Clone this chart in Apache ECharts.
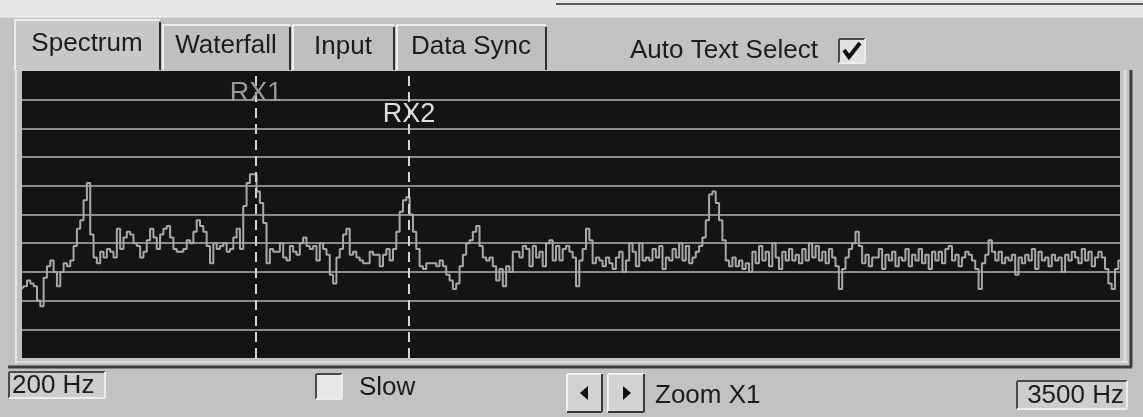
<!DOCTYPE html>
<html>
<head>
<meta charset="utf-8">
<title>Spectrum</title>
<script src="https://cdn.jsdelivr.net/npm/echarts@6/dist/echarts.min.js"></script>
<style>
  html, body { margin: 0; padding: 0; background: #c2c2c2; }
  #chart { width: 1143px; height: 417px; }
</style>
</head>
<body>
<div id="chart"></div>
<script>
  // spectrum bins, 10 Hz apart, 200 .. 3500 Hz
  const FREQ_START = 200;
  const FREQ_END = 3500;
  const FREQ_STEP = 10;

  // level of each bin (0..100 scale, 10 per grid line)
  const levels = [
    24, 25, 27, 26, 25, 20, 18, 28, 32, 34,
    30, 25, 30, 33, 32, 34, 39, 45, 48, 55,
    61, 43, 35, 33, 37, 35, 38, 37, 35, 45,
    38, 42, 44, 43, 40, 39, 35, 37, 41, 45,
    42, 38, 43, 45, 46, 42, 38, 37, 37, 38,
    41, 40, 44, 48, 46, 44, 39, 33, 40, 38,
    39, 40, 37, 38, 42, 45, 38, 53, 61, 64,
    64, 58, 54, 47, 33, 38, 37, 37, 40, 35,
    34, 39, 37, 36, 40, 42, 39, 38, 39, 34,
    40, 38, 36, 29, 26, 35, 38, 43, 45, 36,
    37, 35, 34, 33, 33, 37, 36, 36, 32, 36,
    38, 34, 38, 44, 51, 55, 56, 50, 44, 38,
    32, 31, 33, 33, 33, 32, 34, 32, 29, 27,
    24, 26, 32, 36, 40, 41, 44, 46, 39, 35,
    34, 35, 32, 27, 31, 25, 32, 30, 37, 37,
    35, 39, 38, 32, 39, 35, 37, 32, 40, 41,
    34, 39, 34, 38, 39, 37, 35, 25, 34, 38,
    45, 41, 33, 35, 34, 32, 35, 33, 31, 35,
    37, 30, 34, 40, 37, 32, 40, 34, 35, 34,
    38, 35, 39, 31, 35, 34, 38, 35, 40, 34,
    39, 33, 35, 37, 39, 42, 48, 57, 58, 54,
    48, 41, 34, 32, 35, 32, 34, 31, 33, 30,
    37, 33, 39, 34, 37, 32, 40, 35, 31, 37,
    34, 38, 34, 36, 33, 38, 34, 40, 35, 39,
    34, 37, 33, 38, 35, 32, 24, 31, 35, 38,
    40, 44, 39, 33, 36, 32, 35, 35, 38, 31,
    36, 34, 37, 32, 35, 34, 38, 32, 36, 34,
    38, 33, 36, 31, 37, 34, 37, 33, 38, 39,
    34, 36, 32, 35, 37, 36, 34, 31, 24, 33,
    36, 41, 37, 34, 37, 33, 35, 34, 36, 29,
    35, 33, 36, 34, 38, 31, 37, 34, 35, 32,
    36, 34, 35, 30, 36, 34, 37, 35, 33, 38,
    34, 37, 32, 35, 37, 35, 31, 26, 24, 31,
    34
  ];

  // receive markers
  const rxNames = ['RX1', 'RX2'];
  const rxFreqs = [903, 1363];
  const rxLabelLevels = [92, 85];

  // texts of the window
  const tabNames = ['Spectrum', 'Waterfall', 'Input', 'Data Sync'];
  const freqLabels = ['200 Hz', '3500 Hz'];

  const spectrum = levels.map((v, i) => [FREQ_START + i * FREQ_STEP, v]);

  const INK = '#1c1c1c';
  const LIGHT = '#ececec';
  const SHADOW = '#4a4a4a';

  function line(x1, y1, x2, y2, color, width) {
    return {
      type: 'line',
      shape: { x1: x1, y1: y1, x2: x2, y2: y2 },
      style: { stroke: color, lineWidth: width || 2 },
      silent: true,
    };
  }
  function rect(x, y, w, h, fill) {
    return { type: 'rect', shape: { x: x, y: y, width: w, height: h }, style: { fill: fill }, silent: true };
  }
  function text(str, x, y, align, size) {
    return {
      type: 'text',
      silent: true,
      style: {
        text: str,
        x: x,
        y: y,
        fill: INK,
        font: (size || 26) + 'px "Liberation Sans", Arial, sans-serif',
        textAlign: align || 'left',
        verticalAlign: 'middle',
        textVerticalAlign: 'middle',
      },
    };
  }
  // sunken box (text fields, check boxes)
  function sunken(x, y, w, h, fill) {
    return [
      rect(x, y, w, h, fill),
      line(x, y, x + w, y, SHADOW, 2),
      line(x, y, x, y + h, SHADOW, 2),
      line(x, y + h, x + w, y + h, LIGHT, 2),
      line(x + w, y, x + w, y + h, LIGHT, 2),
    ];
  }
  // raised button
  function raised(x, y, w, h) {
    return [
      rect(x, y, w, h, '#d2d2d2'),
      line(x, y, x + w, y, '#f2f2f2', 2),
      line(x, y, x, y + h, '#f2f2f2', 2),
      line(x, y + h, x + w, y + h, '#3a3a3a', 2),
      line(x + w, y, x + w, y + h, '#3a3a3a', 2),
    ];
  }

  const graphics = [];

  // window strip on top
  graphics.push(rect(0, 0, 1143, 17, '#e6e6e6'));
  graphics.push(line(556, 4, 1143, 4, '#5a5a5a', 2));
  graphics.push(line(0, 17, 1143, 17, '#f4f4f4', 1));

  // tabs
  const tabEdges = [14, 162, 292, 396, 548];
  const tabTextY = [44, 46, 47, 47];
  tabNames.forEach((name, i) => {
    const x0 = tabEdges[i];
    const x1 = tabEdges[i + 1] - 2;
    const top = i === 0 ? 20 : 25;
    graphics.push(rect(x0, top, x1 - x0, 71 - top, i === 0 ? '#c8c8c8' : '#bfbfbf'));
    graphics.push(line(x0, top, x1, top, '#ededed', 2));
    graphics.push(line(x0 + 1, top, x0 + 1, 70, '#ededed', 2));
    graphics.push(line(x1, top + 2, x1, 70, '#2e2e2e', 2));
    graphics.push(text(name, (x0 + x1) / 2, tabTextY[i], 'center'));
  });

  // auto text select check box
  graphics.push(text('Auto Text Select', 630, 51, 'left'));
  graphics.push.apply(graphics, sunken(839, 39, 26, 24, '#e2e2e2'));
  graphics.push({
    type: 'polyline',
    silent: true,
    shape: { points: [[844, 50], [849, 57], [860, 43]] },
    style: { stroke: '#111', lineWidth: 4, fill: null },
  });

  // frame of the display
  graphics.push(line(16, 70, 16, 364, '#e4e4e4', 2));
  graphics.push(line(16, 362, 1128, 362, '#dcdcdc', 2));
  graphics.push(line(8, 367, 1132, 367, '#3c3c3c', 3));
  graphics.push(line(1131, 70, 1131, 367, '#3c3c3c', 3));
  graphics.push(line(1125, 70, 1125, 362, '#dedede', 3));

  // bottom bar
  graphics.push.apply(graphics, sunken(9, 372, 96, 26, '#cdcdcd'));
  graphics.push(text(freqLabels[0], 12, 386, 'left'));

  graphics.push.apply(graphics, sunken(316, 374, 26, 25, '#e8e8e8'));
  graphics.push(text('Slow', 359, 388, 'left'));

  graphics.push.apply(graphics, raised(567, 374, 35, 38));
  graphics.push.apply(graphics, raised(608, 374, 36, 38));
  graphics.push({
    type: 'polygon', silent: true,
    shape: { points: [[580, 393], [588, 386], [588, 400]] },
    style: { fill: '#111' },
  });
  graphics.push({
    type: 'polygon', silent: true,
    shape: { points: [[631, 393], [623, 386], [623, 400]] },
    style: { fill: '#111' },
  });
  graphics.push(text('Zoom X1', 655, 396, 'left'));

  graphics.push.apply(graphics, sunken(1017, 381, 110, 28, '#cdcdcd'));
  graphics.push(text(freqLabels[1], 1124, 396, 'right'));

  const chart = echarts.init(document.getElementById('chart'), null, { renderer: 'canvas' });

  const option = {
    backgroundColor: '#c2c2c2',
    animation: false,
    grid: {
      left: 22,
      right: 23,
      top: 71,
      bottom: 59,
      show: true,
      backgroundColor: '#141414',
      borderWidth: 0,
    },
    xAxis: {
      type: 'value',
      min: FREQ_START,
      max: FREQ_END,
      axisLine: { show: false },
      axisTick: { show: false },
      axisLabel: { show: false },
      splitLine: { show: false },
    },
    yAxis: {
      type: 'value',
      min: 0,
      max: 100,
      interval: 10,
      axisLine: { show: false },
      axisTick: { show: false },
      axisLabel: { show: false },
      splitLine: {
        show: true,
        showMinLine: false,
        showMaxLine: false,
        lineStyle: { color: '#8a8a8a', width: 2 },
      },
    },
    series: [
      {
        type: 'line',
        data: spectrum,
        step: 'middle',
        showSymbol: false,
        silent: true,
        lineStyle: { color: '#a8a8a8', width: 2 },
        markLine: {
          silent: true,
          symbol: ['none', 'none'],
          label: { show: false },
          lineStyle: { color: '#d4d4d4', width: 2, type: [10, 6] },
          data: rxFreqs.map((f) => ({ xAxis: f })),
        },
        markPoint: {
          silent: true,
          symbol: 'rect',
          symbolSize: 0,
          data: rxNames.map((name, i) => ({
            coord: [rxFreqs[i], rxLabelLevels[i]],
            label: {
              show: true,
              position: 'inside',
              formatter: name,
              color: i === 0 ? '#9a9a9a' : '#dedede',
              fontSize: 27,
              fontFamily: '"Liberation Sans", Arial, sans-serif',
            },
          })),
        },
      },
    ],
    graphic: { elements: graphics },
  };

  chart.setOption(option);
</script>
</body>
</html>
